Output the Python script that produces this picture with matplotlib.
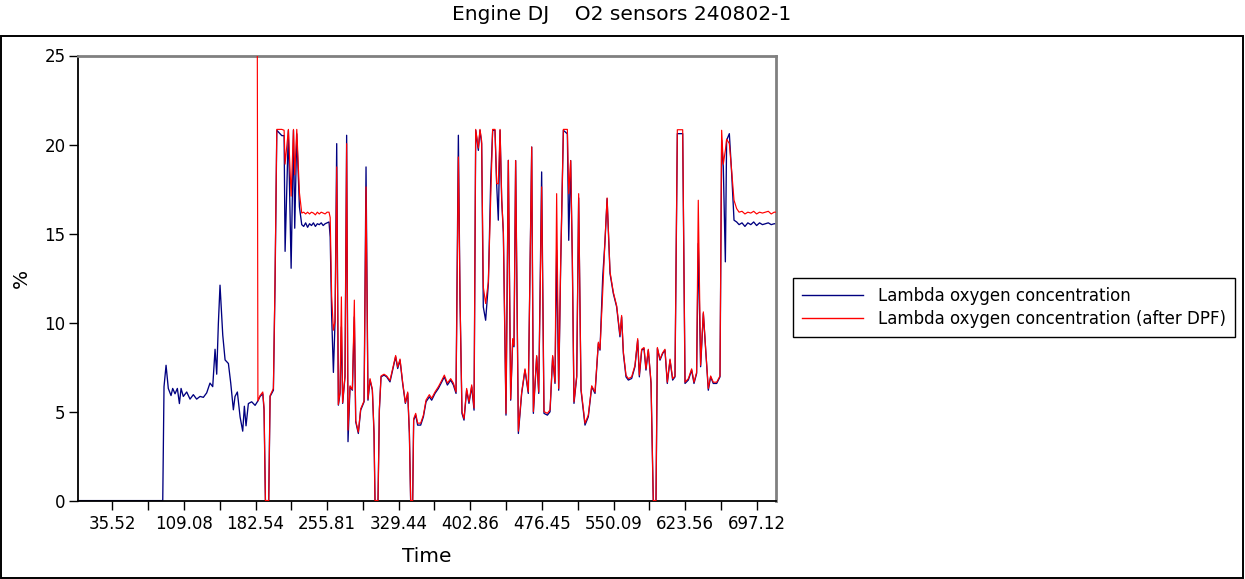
import matplotlib
matplotlib.use("Agg")
import matplotlib.pyplot as plt
from matplotlib.patches import Rectangle
import numpy as np

# ---------------- data ----------------
title = "Engine DJ    O2 sensors 240802-1"
series_names = ["Lambda oxygen concentration", "Lambda oxygen concentration (after DPF)"]
tick_values = [35.52, 109.08, 182.54, 255.81, 329.44, 402.86, 476.45, 550.09, 623.56, 697.12]
tick_labels = ["35.52", "109.08", "182.54", "255.81", "329.44", "402.86", "476.45", "550.09", "623.56", "697.12"]

# blue sensor only, before the second sensor starts
time_pre = [0.6, 87.3, 88.6, 90.7, 93.0, 95.8, 97.5, 99.9, 102.3, 104.4, 106.1, 108.4, 111.9, 115.3,
            118.7, 122.1, 125.6, 129.0, 132.4, 135.8, 138.6, 141.0, 142.7, 144.4, 146.1, 147.9,
            148.9, 151.3, 154.7, 157.1, 159.8, 161.5, 163.9, 166.7, 169.4, 171.1, 172.8, 175.2,
            178.6, 182.1]
blue_pre = [0, 0, 6.4, 7.6, 6.3, 5.9, 6.3, 6.0, 6.3, 5.45, 6.3, 5.85, 6.1, 5.7,
            5.95, 5.7, 5.85, 5.8, 6.05, 6.6, 6.4, 8.5, 7.1, 9.95, 12.1, 10.35,
            9.3, 7.9, 7.7, 6.6, 5.1, 5.85, 6.1, 4.7, 3.9, 5.3, 4.2, 5.45,
            5.55, 5.35]

# both sensors
time = [184.4, 185.0, 187.2, 190.0, 191.3, 192.7, 196.1, 197.5, 200.9, 202.6, 204.4, 209.5, 211.9,
        212.9, 216.3, 219.1, 221.5, 222.8, 224.9, 227.6, 230.0, 232, 234, 236, 238, 240, 242, 244,
        246, 248, 250, 252, 254, 256, 258, 259.2, 260.7, 262.5, 264.2, 265.9, 267.6, 269.3, 270.7,
        272.0, 274.4, 276.1, 277.5, 279.6, 282.0, 284.0, 285.4, 288.1, 290.5, 294.0, 296.0, 298.0,
        300.1, 302.5, 304.2, 305.2, 308.3, 309.7, 311.4, 314.5, 317.2, 320.6, 324.1, 326.4, 328.5,
        330.9, 333.6, 336.4, 338.8, 340.5, 341.8, 343.9, 344.9, 347.0, 349.0, 352.1, 354.9, 357.6,
        361.0, 363.4, 366.8, 370.3, 373.7, 376.4, 379.5, 382.9, 385.7, 388.4, 390.8, 392.5, 394.5,
        396.6, 399.3, 401.7, 404.5, 406.9, 408.6, 411.3, 413.0, 414.7, 416.4, 418.8, 421.6, 424.0,
        426.0, 428.4, 430.1, 431.8, 433.6, 435.3, 437.0, 439.7, 442.1, 444.5, 446.6, 447.9, 449.6,
        452.4, 455.8, 459.2, 462.6, 466.1, 467.8, 471.2, 473.3, 476.3, 478.7, 482.2, 484.9, 487.6,
        490.0, 491.7, 493.8, 495.8, 498.6, 502.7, 504.1, 506.1, 507.8, 509.5, 512.3, 514.3, 516.7,
        520.8, 524.2, 527.7, 531.1, 534.5, 536.2, 539.0, 541.4, 543.5, 546.5, 549.9, 553.3, 556.7,
        558.4, 560.2, 562.9, 565.3, 568.7, 572.1, 574.9, 576.6, 579.0, 581.4, 583.4, 585.8, 588.6,
        590.9, 593.7, 595.1, 597.8, 600.5, 602.9, 605.3, 608.1, 610.8, 613.2, 615.6, 621.1, 623.5,
        626.9, 630.3, 632.7, 635.4, 637.1, 639.5, 642.3, 644.7, 647.4, 649.8, 652.5, 656.0, 659.4,
        661.1, 662.8, 664.9, 666.2, 669.0, 671.4, 673.8, 676.5, 679, 682, 685, 688, 691, 694, 697,
        700, 703, 706, 709, 712, 715, 717]
blue = [5.55, 5.6, 5.85, 6.0, 5.1, 0, 0, 5.85, 6.2, 12.2, 20.8, 20.5, 20.5,
        14.0, 20.8, 13.05, 20.8, 15.3, 20.6, 16.5, 15.5, 15.4, 15.6, 15.35, 15.55, 15.45, 15.6, 15.4,
        15.55, 15.5, 15.6, 15.45, 15.55, 15.6, 15.65, 14.8, 10.4, 7.2, 10.1, 20.05, 5.36, 6.02, 9.76,
        5.46, 6.95, 20.52, 3.31, 6.39, 6.2, 10.32, 4.43, 3.77, 5.08, 5.55, 18.74, 5.64,
        6.77, 6.2, 3.77, 0, 0, 5.08, 6.95, 7.05, 6.95, 6.67, 7.52, 8.08, 7.42,
        7.89, 6.58, 5.46, 6.02, 3.77, 0, 0, 4.52, 4.80, 4.24, 4.24, 4.71, 5.55,
        5.83, 5.64, 6.02, 6.30, 6.67, 6.95, 6.49, 6.77, 6.49, 6.02, 20.52, 11.26, 4.9,
        4.52, 6.2, 5.46, 6.39, 5.08, 20.8, 19.67, 20.8, 20.05, 10.88, 10.13, 12.19, 17.99,
        20.8, 20.8, 17.8, 15.75, 20.8, 16.87, 15.0, 4.80, 19.11, 5.64, 9.01, 8.64, 19.1,
        3.77, 6.02, 7.33, 6.02, 19.86, 4.9, 8.08, 6.02, 18.46, 4.9, 4.8, 4.99, 8.08,
        6.58, 14.06, 6.2, 13.13, 20.8, 20.6, 14.62, 19.1, 13.5, 5.46, 6.95, 17.0, 6.2,
        4.24, 4.71, 6.39, 6.02, 8.82, 8.45, 12.57, 14.62, 16.96, 12.75, 11.63, 10.88, 9.2,
        10.32, 8.26, 6.95, 6.77, 6.86, 7.52, 9.01, 6.95, 8.45, 8.54, 7.33, 8.45, 6.58,
        0, 0, 8.54, 7.89, 8.26, 8.45, 6.58, 7.89, 6.77, 6.95, 20.61, 20.61, 6.58,
        6.77, 7.33, 6.58, 7.14, 14.44, 7.52, 10.51, 8.45, 6.2, 6.95, 6.58, 6.58, 6.95,
        20.24, 18.74, 13.41, 20.24, 20.61, 18.36, 15.75, 15.65, 15.5, 15.6, 15.4, 15.6, 15.5, 15.65, 15.45,
        15.6, 15.5, 15.55, 15.6, 15.5, 15.55, 15.55]
red = [25.0, 5.6, 5.9, 6.1, 5.2, 0, 0, 5.9, 6.3, 12.5, 20.85, 20.85, 20.8,
       18.9, 20.85, 17.1, 20.85, 18.3, 20.85, 17.3, 16.15, 16.2, 16.1, 16.2, 16.1, 16.2, 16.15, 16.05,
       16.2, 16.1, 16.2, 16.15, 16.1, 16.2, 16.2, 15.9, 11.5, 9.57, 10.1, 18.74, 5.4, 6.1, 11.44,
       5.5, 7.0, 20.05, 3.96, 6.45, 6.25, 11.26, 4.5, 3.85, 5.15, 5.6, 17.62, 5.7,
       6.85, 6.25, 3.85, 0, 0, 5.15, 7.0, 7.1, 7.0, 6.75, 7.6, 8.15, 7.5,
       7.95, 6.65, 5.5, 6.1, 3.85, 0, 0, 4.6, 4.9, 4.35, 4.35, 4.8, 5.65,
       5.95, 5.75, 6.1, 6.4, 6.75, 7.05, 6.6, 6.85, 6.6, 6.1, 19.3, 11.4, 5.0,
       4.6, 6.3, 5.55, 6.5, 5.2, 20.85, 19.8, 20.85, 20.2, 12.0, 11.07, 12.3, 16.87,
       20.85, 20.85, 17.8, 17.8, 20.85, 16.9, 15.1, 4.9, 19.11, 5.7, 9.1, 8.7, 19.1,
       3.9, 6.1, 7.4, 6.1, 19.86, 5.0, 8.15, 6.1, 17.62, 5.0, 4.9, 5.1, 8.15,
       6.65, 17.24, 6.3, 13.2, 20.85, 20.85, 17.24, 19.1, 13.6, 5.55, 7.0, 17.24, 6.3,
       4.35, 4.8, 6.45, 6.1, 8.9, 8.5, 11.72, 14.7, 17.0, 12.85, 11.7, 10.95, 9.3,
       10.4, 8.35, 7.05, 6.85, 6.95, 7.6, 9.1, 7.05, 8.5, 8.6, 7.4, 8.5, 6.65,
       0, 0, 8.6, 7.95, 8.3, 8.5, 6.65, 7.95, 6.85, 7.0, 20.83, 20.83, 6.65,
       6.85, 7.4, 6.65, 7.2, 16.87, 7.6, 10.6, 8.5, 6.3, 7.0, 6.65, 6.65, 7.0,
       20.8, 18.9, 19.67, 20.3, 20.05, 18.5, 16.87, 16.4, 16.2, 16.25, 16.1, 16.2, 16.15, 16.25, 16.1,
       16.2, 16.15, 16.2, 16.25, 16.1, 16.2, 16.2]

# ---------------- figure ----------------
W, H, DPI = 1245, 579, 100
fig = plt.figure(figsize=(W / DPI, H / DPI), dpi=DPI, facecolor="white")
ax = fig.add_axes([78.3 / W, 1 - 500.6 / H, (776 - 78.3) / W, (500.6 - 55.5) / H])

blue_t = time_pre + time
blue_v = blue_pre + blue
ax.plot(blue_t, blue_v, color="#000080", lw=0.95, label=series_names[0], zorder=2)
ax.plot(time, red, color="#ff0000", lw=0.85, label=series_names[1], zorder=3)

ax.set_xlim(0.6, 716.9)
ax.set_ylim(0, 25)
ax.set_yticks([0, 5, 10, 15, 20, 25])
minor = [(a + b) / 2 for a, b in zip(tick_values[:-1], tick_values[1:])]
ax.set_xticks(tick_values)
ax.set_xticklabels(tick_labels)
ax.set_xticks(minor, minor=True)
ax.tick_params(axis="both", which="both", direction="out", length=6.3, width=1.0,
               labelsize=12, colors="black")
ax.tick_params(axis="x", which="both", pad=4)
ax.tick_params(axis="y", pad=3)

for side in ("left", "bottom"):
    ax.spines[side].set_color("black")
    ax.spines[side].set_linewidth(1.3)
for side in ("top", "right"):
    ax.spines[side].set_color("#808080")
    ax.spines[side].set_linewidth(2.0)

ax.set_xlabel("Time", fontsize=14.5, labelpad=10.5)
ax.set_ylabel("%", fontsize=14.5, labelpad=9.5)

fig.text(0.499, 1 - 14.5 / H, title, ha="center", va="center", fontsize=14.5)

leg = fig.legend(loc="center left", bbox_to_anchor=(792.7 / W, 1 - 307.5 / H), fontsize=12,
                 frameon=True, fancybox=False, shadow=False, framealpha=1,
                 edgecolor="black", handlelength=3.65, handletextpad=0.9,
                 labelspacing=0.3, borderpad=0.55, borderaxespad=0)
leg.get_frame().set_linewidth(1.0)
for line in leg.get_lines():
    line.set_linewidth(1.0)

# outer frame of the figure
fig.patches.append(Rectangle((0.8 / W, 1 - 577.8 / H), (1242.5 - 0.8) / W, (577.8 - 36.3) / H,
                             transform=fig.transFigure, fill=False, edgecolor="black",
                             linewidth=1.4, zorder=0))

fig.savefig("out.png", dpi=DPI, facecolor="white")
